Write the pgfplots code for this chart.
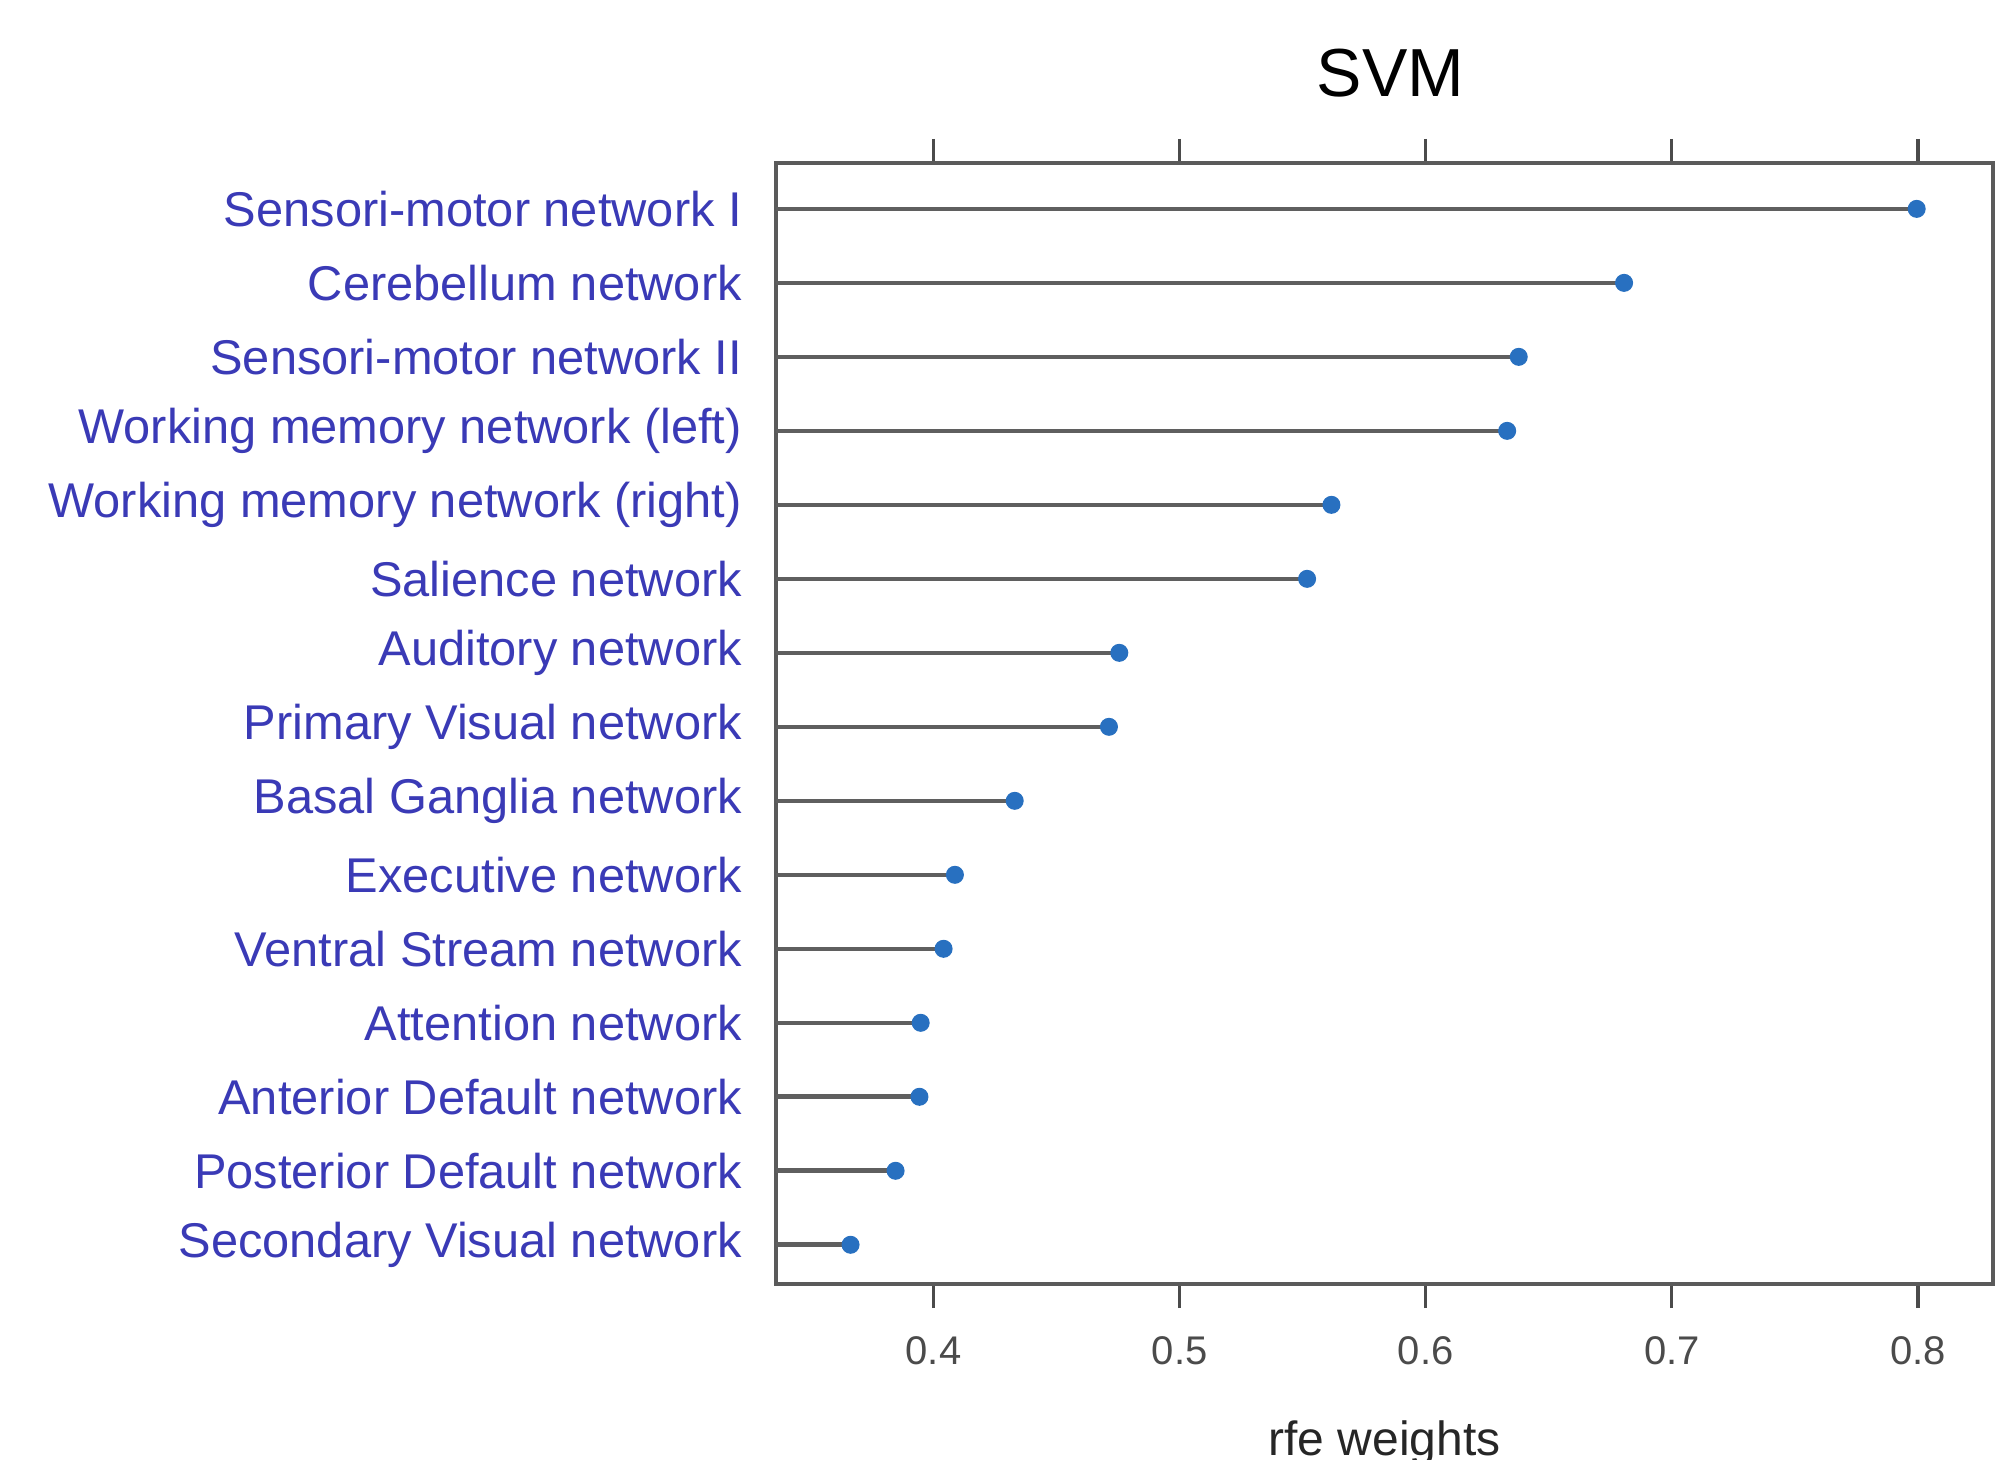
\documentclass[border=0pt]{standalone}
\usepackage{pgfplots}
\pgfplotsset{compat=1.18}
\usepackage{fontspec}
\setmainfont{Liberation Sans}
\definecolor{labblue}{RGB}{58,58,182}
\definecolor{mkblue}{RGB}{40,112,192}
\definecolor{framegray}{RGB}{90,90,90}
\definecolor{linegray}{RGB}{95,95,95}
\definecolor{tickgray}{RGB}{75,75,75}
\begin{document}
\begin{tikzpicture}
\path[use as bounding box] (-194bp,-44bp) rectangle (309.25bp,321bp);
\begin{axis}[
  scale only axis,
  width=304.25bp, height=280.25bp,
  xmin=0.336, xmax=0.8305,
  ymin=0.47, ymax=15.62,
  axis line style={draw=framegray, line width=1bp},
  xtick={0.4,0.5,0.6,0.7,0.8},
  xticklabels={0.4,0.5,0.6,0.7,0.8},
  xtick pos=both,
  xticklabel pos=lower,
  tick align=outside,
  major tick length=6bp,
  tick style={draw=tickgray, line width=0.8bp},
  ytick={1,...,15},
  ytick pos=left,
  every y tick/.style={draw=none},
  every major y tick/.style={draw=none},
  yticklabels={Secondary Visual network,Posterior Default network,Anterior Default network,Attention network,Ventral Stream network,Executive network,Basal Ganglia network,Primary Visual network,Auditory network,Salience network,Working memory network (right),Working memory network (left),Sensori-motor network II,Cerebellum network,Sensori-motor network I},
  yticklabel style={font=\fontsize{12.2bp}{14bp}\selectfont, text=labblue, anchor=east, xshift=1bp},
  xticklabel style={font=\fontsize{10bp}{12bp}\selectfont, text=tickgray, yshift=-3.5bp},
  /pgf/number format/assume math mode=true,
  clip mode=individual,
]
\addplot[xcomb, draw=linegray, line width=1.15bp, mark=*, mark size=2.1bp, mark options={draw=mkblue, fill=mkblue, line width=0.3bp}] coordinates {
  (0.7995,15)
  (0.6806,14)
  (0.6378,13)
  (0.6331,12)
  (0.5617,11)
  (0.5518,10)
  (0.4755,9)
  (0.4713,8)
  (0.4330,7)
  (0.4087,6)
  (0.4041,5)
  (0.3948,4)
  (0.3943,3)
  (0.3846,2)
  (0.3663,1)
};
\node[anchor=base, font=\fontsize{17bp}{20bp}\selectfont] at (rel axis cs:0.505,1) [yshift=16.5bp] {SVM};
\node[anchor=base, font=\fontsize{12bp}{14bp}\selectfont, text=black!85] at (rel axis cs:0.5,0) [yshift=-42.75bp] {rfe weights};
\end{axis}
\end{tikzpicture}
\end{document}
